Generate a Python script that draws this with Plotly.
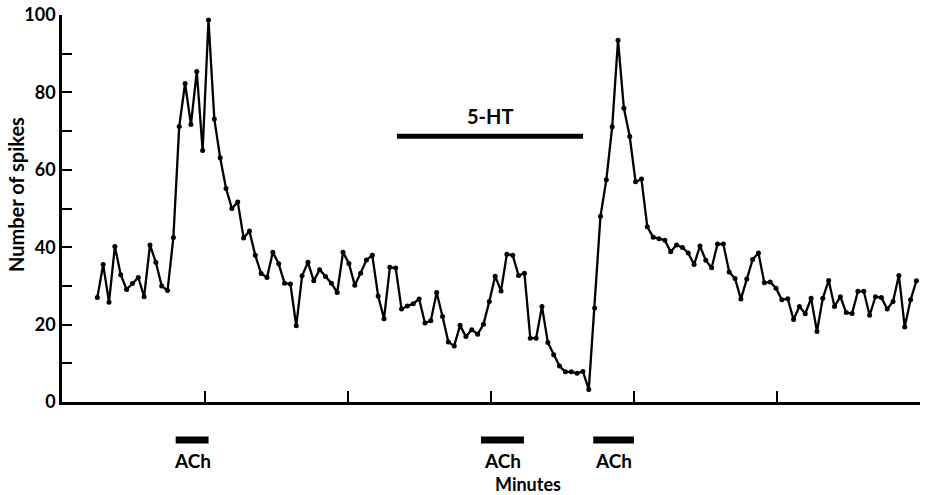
import plotly.graph_objects as go

# Spike counts per bin (true axis units)
spikes = [27.0, 35.5, 25.8, 40.2, 32.9, 29.1, 30.6, 32.2, 27.2, 40.6,
          36.1, 30.0, 28.8, 42.5, 71.2, 82.3, 71.7, 85.4, 65.0, 98.7,
          73.1, 63.1, 55.2, 50.0, 51.7, 42.4, 44.2, 37.9, 33.2, 32.2,
          38.7, 35.7, 30.7, 30.5, 19.7, 32.6, 36.1, 31.3, 34.2, 32.4,
          30.7, 28.3, 38.7, 35.8, 30.2, 33.3, 36.7, 37.9, 27.4, 21.5,
          34.8, 34.6, 24.0, 24.8, 25.4, 26.6, 20.4, 21.0, 28.3, 22.1,
          15.5, 14.5, 19.8, 16.9, 18.7, 17.5, 20.1, 26.0, 32.5, 28.7,
          38.2, 37.9, 32.7, 33.3, 16.5, 16.5, 24.7, 15.4, 12.2, 9.3,
          7.8, 7.8, 7.4, 7.9, 3.2, 24.3, 48.0, 57.4, 71.1, 93.5,
          75.9, 68.6, 56.9, 57.6, 45.3, 42.6, 42.2, 41.8, 38.8, 40.6,
          39.9, 38.5, 35.5, 40.3, 36.6, 34.7, 40.8, 40.8, 33.6, 31.9,
          26.6, 31.8, 36.8, 38.5, 30.8, 31.0, 29.4, 26.4, 26.7, 21.3,
          24.7, 22.8, 26.8, 18.2, 26.8, 31.4, 24.7, 27.2, 23.1, 22.9,
          28.6, 28.6, 22.4, 27.2, 27.0, 24.0, 26.0, 32.7, 19.4, 26.4,
          31.3]

FIRST_BIN_MIN = 0.494   # time of first bin (min)
LAST_BIN_MIN = 11.95    # time of last bin (min)
n = len(spikes)
bin_width = (LAST_BIN_MIN - FIRST_BIN_MIN) / (n - 1)
minutes = [FIRST_BIN_MIN + i * bin_width for i in range(n)]

# Drug application periods (min)
ach_periods = [(1.59, 2.05), (5.86, 6.46), (7.43, 8.00)]
ach_label = "ACh"
ht_period = (4.685, 7.287)
ht_label = "5-HT"

FONT = "Lato"
TXT = dict(family=FONT, size=19, color="black", weight="bold")

fig = go.Figure()
fig.add_trace(go.Scatter(
    x=minutes, y=spikes, mode="lines+markers",
    line=dict(color="black", width=2.3),
    marker=dict(color="black", size=5),
    showlegend=False, cliponaxis=False, hoverinfo="skip",
))

# plot area spans 858 x 387 px; positions below are fractions of it
shapes = []
annotations = []
for (a, b) in ach_periods:
    shapes.append(dict(type="line", xref="x", yref="paper", x0=a, x1=b,
                       y0=-0.098, y1=-0.098, line=dict(color="black", width=7)))
    annotations.append(dict(x=(a + b) / 2, y=-0.150, xref="x", yref="paper",
                            xanchor="center", yanchor="middle", borderpad=0,
                            text=ach_label, showarrow=False, font=TXT))
shapes.append(dict(type="line", xref="x", yref="paper", x0=ht_period[0], x1=ht_period[1],
                   y0=0.687, y1=0.687, line=dict(color="black", width=5)))
annotations.append(dict(x=(ht_period[0] + ht_period[1]) / 2, y=0.739, xref="x", yref="paper",
                        xanchor="center", yanchor="middle", borderpad=0,
                        text=ht_label, showarrow=False,
                        font=dict(family=FONT, size=20, color="black", weight="bold")))
annotations.append(dict(x=0.543, y=-0.211, xref="paper", yref="paper",
                        xanchor="center", yanchor="middle", borderpad=0,
                        text="Minutes", showarrow=False,
                        font=dict(family=FONT, size=18, color="black", weight="bold")))
annotations.append(dict(x=-0.0535, y=0.535, xref="paper", yref="paper",
                        xanchor="center", yanchor="middle", borderpad=0,
                        text="Number of spikes", showarrow=False, textangle=-90,
                        font=dict(family=FONT, size=20, color="black", weight="bold")))

fig.update_layout(
    width=929, height=495,
    margin=dict(l=62, r=9, t=15, b=93, autoexpand=False),
    paper_bgcolor="white", plot_bgcolor="white",
    shapes=shapes, annotations=annotations,
    xaxis=dict(range=[0, 12], dtick=2, showticklabels=False, ticks="inside",
               ticklen=11, tickwidth=2, tickcolor="black",
               showline=True, linecolor="black", linewidth=2.5,
               showgrid=False, zeroline=False, automargin=False),
    yaxis=dict(range=[0, 100], dtick=20, ticks="inside", ticklen=10, tickwidth=2,
               tickcolor="black", showline=True, linecolor="black", linewidth=2.5,
               showgrid=False, zeroline=False, automargin=False,
               ticklabeloverflow="allow",
               tickfont=dict(family=FONT, size=18, color="black", weight="bold"),
               minor=dict(dtick=10, ticks="inside", ticklen=10, tickwidth=2,
                          tickcolor="black", showgrid=False)),
)

fig.write_html("out.html",
               config={"displayModeBar": False},
               post_script="document.body.style.margin='0';document.body.style.overflow='hidden';")
